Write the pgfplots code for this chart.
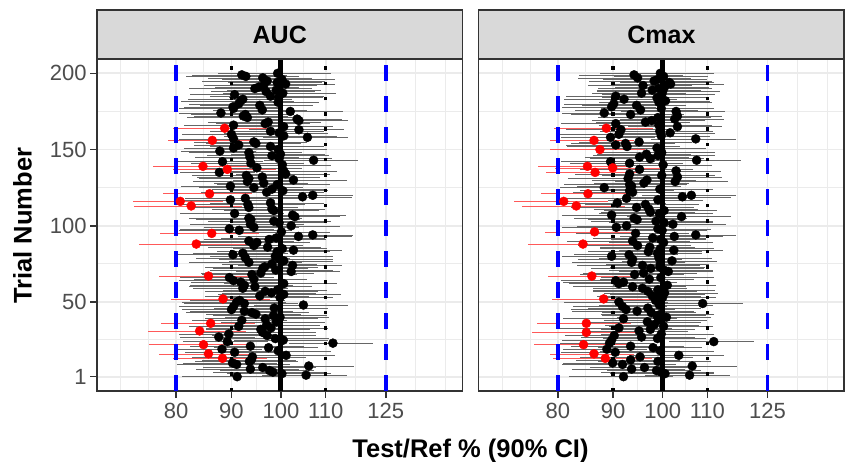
\documentclass[border=0pt]{standalone}
\usepackage{fontspec}
\setmainfont{Liberation Sans}
\usepackage{pgfplots}
\pgfplotsset{compat=1.18}
\usepackage{pgfplotstable}
\definecolor{grey20}{RGB}{51,51,51}
\definecolor{grey30}{RGB}{77,77,77}
\definecolor{grey85}{RGB}{217,217,217}
\definecolor{grey92}{RGB}{235,235,235}
\definecolor{failred}{RGB}{255,0,0}
\definecolor{limblue}{RGB}{0,0,255}

% t = trial, v = point estimate (%), r = relative half width of the 90% CI
\pgfplotstableread{
t v r
200 99.3 0.12
199 92.0 0.10
198 92.8 0.12
197 96.2 0.11
196 100.2 0.12
195 97.1 0.13
194 99.2 0.10
193 101.0 0.11
192 96.4 0.12
191 95.4 0.09
190 94.6 0.13
189 99.0 0.10
188 96.9 0.11
187 100.4 0.12
186 90.6 0.09
185 97.8 0.12
184 99.5 0.10
183 92.2 0.11
182 91.8 0.12
181 99.4 0.09
180 91.4 0.10
179 95.6 0.12
178 90.3 0.10
177 90.4 0.11
176 96.1 0.10
175 102.0 0.12
174 88.0 0.085
173 92.7 0.11
172 92.3 0.10
171 93.1 0.12
170 103.5 0.10
169 103.9 0.11
168 97.3 0.12
167 96.7 0.10
166 90.4 0.10
165 100.6 0.11
163 103.9 0.10
162 97.8 0.12
161 99.6 0.11
160 90.0 0.10
159 100.6 0.12
158 105.8 0.09
157 90.4 0.11
155 94.4 0.12
154 94.8 0.10
153 91.4 0.09
152 97.8 0.12
151 90.4 0.10
150 99.4 0.11
149 87.8 0.08
148 93.4 0.12
147 99.9 0.10
146 98.1 0.13
145 93.6 0.11
144 99.6 0.12
143 107.2 0.10
142 88.3 0.09
141 93.8 0.12
140 100.3 0.11
138 95.0 0.10
136 100.6 0.12
135 87.7 0.08
134 101.0 0.10
133 92.9 0.11
132 96.1 0.13
131 93.4 0.10
130 102.7 0.12
129 93.1 0.11
128 96.4 0.10
127 99.2 0.12
126 89.8 0.10
125 94.4 0.11
124 98.1 0.12
123 100.4 0.10
122 97.0 0.13
120 107.0 0.09
119 104.7 0.11
118 92.7 0.12
117 89.8 0.10
115 97.8 0.12
114 93.2 0.13
112 93.4 0.11
111 98.1 0.12
110 98.5 0.10
108 90.6 0.11
107 102.5 0.12
106 103.0 0.10
105 93.4 0.12
104 93.8 0.11
103 98.5 0.13
102 99.6 0.10
101 93.7 0.12
100 102.2 0.11
99 94.4 0.10
98 89.6 0.10
97 91.5 0.12
96 100.1 0.11
94 107.0 0.09
93 103.8 0.12
92 99.0 0.11
91 97.5 0.13
90 93.4 0.10
89 95.0 0.12
87 94.4 0.11
86 97.2 0.12
85 100.3 0.10
84 102.7 0.11
83 99.2 0.12
82 92.2 0.10
81 90.3 0.11
80 98.8 0.13
79 92.7 0.10
78 99.7 0.12
77 100.6 0.11
76 93.4 0.12
75 98.1 0.10
74 102.5 0.11
73 96.6 0.12
72 96.2 0.10
71 98.9 0.13
70 102.2 0.11
69 95.8 0.12
68 94.0 0.10
66 89.6 0.10
65 94.4 0.12
64 90.4 0.11
63 91.8 0.10
62 100.6 0.12
61 92.5 0.11
60 94.6 0.13
59 92.2 0.10
58 99.3 0.11
57 96.7 0.12
56 98.0 0.10
55 100.6 0.13
54 95.6 0.11
53 99.8 0.12
51 91.6 0.10
50 91.0 0.11
49 92.5 0.12
48 104.9 0.10
47 90.4 0.11
46 98.6 0.12
45 90.0 0.10
44 92.5 0.11
43 94.0 0.13
42 94.8 0.10
41 98.4 0.12
40 99.8 0.11
39 96.7 0.12
38 92.0 0.10
37 99.0 0.11
35 97.0 0.12
34 91.4 0.10
33 97.9 0.13
32 95.8 0.11
30 96.2 0.12
29 89.5 0.10
28 97.1 0.11
27 87.6 0.08
26 98.8 0.12
25 100.5 0.10
24 89.2 0.09
23 111.7 0.09
21 93.7 0.12
20 97.4 0.11
19 88.2 0.09
18 99.4 0.12
17 90.6 0.10
15 101.1 0.11
14 94.1 0.12
12 93.9 0.10
11 93.5 0.11
10 90.2 0.10
9 91.0 0.12
8 106.1 0.10
7 96.2 0.12
6 93.7 0.11
5 97.6 0.10
4 98.3 0.12
3 100.2 0.11
2 105.5 0.09
1 91.1 0.11
}\aucpass

\pgfplotstableread{
t v r
164 88.7 0.105
156 86.4 0.09
139 84.7 0.10
137 89.2 0.11
121 85.9 0.095
116 80.7 0.095
113 82.6 0.115
95 86.3 0.105
88 83.5 0.115
67 85.7 0.10
52 88.4 0.105
36 86.1 0.10
31 84.1 0.105
22 84.8 0.11
16 85.7 0.10
13 88.3 0.10
}\aucfail

\pgfplotstableread{
t v r
200 99.5 0.12
199 94.1 0.11
198 100.2 0.10
197 94.8 0.12
196 99.0 0.11
195 98.2 0.13
194 101.4 0.10
193 101.7 0.12
192 95.9 0.11
191 100.4 0.10
190 99.1 0.12
189 97.8 0.11
188 100.0 0.13
187 95.6 0.10
186 99.8 0.12
185 90.5 0.10
184 98.8 0.11
183 92.1 0.12
182 100.6 0.10
181 99.2 0.12
180 90.1 0.10
179 94.6 0.11
178 89.7 0.10
177 99.7 0.12
176 95.4 0.13
175 102.9 0.11
174 88.3 0.085
173 93.4 0.12
172 103.2 0.10
171 99.0 0.12
170 102.6 0.11
169 97.7 0.12
168 96.4 0.10
167 90.5 0.11
166 99.2 0.12
165 103.2 0.10
163 91.5 0.11
162 99.4 0.12
161 101.6 0.10
160 91.1 0.12
159 99.7 0.11
158 89.5 0.10
157 107.3 0.09
155 95.1 0.12
154 92.4 0.11
153 90.5 0.10
152 92.7 0.12
151 98.8 0.11
148 99.8 0.12
147 96.6 0.10
146 99.0 0.13
145 95.2 0.11
144 97.4 0.12
143 107.5 0.10
142 89.5 0.10
141 93.2 0.12
140 100.1 0.11
137 95.2 0.12
136 102.9 0.10
134 93.2 0.11
133 99.8 0.12
132 103.2 0.10
131 92.9 0.12
130 96.7 0.11
129 102.7 0.12
128 96.1 0.10
127 93.2 0.13
126 93.6 0.11
125 88.3 0.09
124 99.4 0.12
123 93.2 0.10
122 93.8 0.12
120 106.3 0.10
119 104.3 0.11
118 92.6 0.12
117 99.0 0.10
115 90.8 0.11
114 96.4 0.12
112 94.6 0.13
111 97.1 0.11
110 100.3 0.12
109 97.4 0.10
108 99.3 0.12
107 89.7 0.10
106 104.1 0.11
105 94.1 0.12
104 94.7 0.10
103 98.6 0.13
102 100.3 0.11
101 102.2 0.12
100 92.6 0.10
99 90.6 0.11
98 99.0 0.12
97 99.9 0.10
95 94.4 0.12
94 107.3 0.09
93 102.5 0.11
92 97.9 0.12
91 99.6 0.10
90 93.8 0.13
89 100.2 0.11
87 94.8 0.12
86 97.3 0.10
85 99.5 0.12
84 102.4 0.11
83 97.0 0.12
82 98.9 0.10
81 93.1 0.11
80 89.7 0.10
79 99.2 0.12
78 93.8 0.11
77 102.0 0.10
76 93.6 0.12
75 99.5 0.11
74 95.8 0.13
73 99.4 0.10
72 97.5 0.12
71 100.2 0.11
70 101.2 0.10
69 96.0 0.12
68 94.2 0.11
66 99.6 0.12
65 97.2 0.10
64 90.5 0.11
63 92.0 0.12
62 91.1 0.10
61 101.0 0.11
60 93.8 0.12
59 95.8 0.10
58 99.0 0.13
57 96.9 0.11
56 100.4 0.12
55 99.4 0.10
54 97.8 0.11
53 100.0 0.12
51 98.5 0.10
50 91.1 0.11
49 108.9 0.09
48 99.3 0.12
47 91.8 0.10
46 96.9 0.12
45 92.5 0.11
44 94.7 0.13
43 97.6 0.10
42 99.6 0.12
41 98.8 0.11
40 100.8 0.10
39 92.0 0.12
38 99.1 0.11
37 96.8 0.12
35 98.2 0.10
34 100.2 0.11
33 91.1 0.12
32 97.4 0.10
31 95.1 0.11
29 99.7 0.12
28 90.2 0.10
27 95.6 0.12
26 98.9 0.11
25 89.7 0.10
24 111.5 0.09
23 89.3 0.10
21 93.4 0.12
20 98.0 0.11
19 88.8 0.09
18 99.5 0.12
17 90.4 0.11
15 103.5 0.10
14 95.3 0.12
12 93.4 0.11
11 99.0 0.12
10 89.9 0.10
9 91.8 0.12
8 106.5 0.10
7 96.2 0.11
6 93.6 0.12
5 98.7 0.10
4 99.7 0.12
3 100.5 0.11
2 105.9 0.09
1 92.0 0.11
}\cmaxpass

\pgfplotstableread{
t v r
164 88.7 0.105
156 86.4 0.09
150 87.5 0.10
139 85.2 0.10
138 89.9 0.115
135 86.6 0.10
121 85.3 0.095
116 81.0 0.10
113 83.2 0.11
96 86.5 0.10
88 84.4 0.11
67 86.0 0.09
52 88.2 0.105
36 85.0 0.10
30 85.0 0.11
22 84.5 0.10
16 86.4 0.09
13 88.5 0.105
}\cmaxfail

\begin{document}
\begin{tikzpicture}
\path[use as bounding box] (0,0) rectangle (846bp,462bp);

% ---------- AUC ----------
\begin{axis}[
  at={(97bp,71bp)}, anchor=south west,
  scale only axis, width=365.5bp, height=332bp,
  xmode=log, xmin=67.6, xmax=147.2, ymin=-8.4, ymax=209.4,
  xtick={80,90,100,110,125},
  xticklabels={\mbox{80},\mbox{90},\mbox{100},\mbox{110},\mbox{125}},
  minor xtick={71.11,75.42,84.85,94.87,104.88,117.26,133.25,142.05},
  ytick={1,50,100,150,200},
  yticklabels={\mbox{1},\mbox{50},\mbox{100},\mbox{150},\mbox{200}},
  minor ytick={25.5,75,125,175},
  grid=both,
  major grid style={grey92, line width=1.8bp},
  minor grid style={grey92, line width=0.9bp},
  axis line style={grey20, line width=1.5bp},
  tick align=outside, major tick length=7bp, minor tick length=0pt,
  xtick pos=left, ytick pos=left,
  tick style={grey20, line width=1.5bp},
  tick label style={font=\fontsize{22bp}{24bp}\selectfont, text=grey30},
  xticklabel style={yshift=-1.5bp},
]
  \addplot[only marks, mark=none, error bars/.cd, x dir=both, x explicit relative,
    error mark=none, error bar style={line width=0.5bp, black!60}]
    table[x=v, y=t, x error=r] {\aucpass};
  \addplot[only marks, mark=none, error bars/.cd, x dir=both, x explicit relative,
    error mark=none, error bar style={line width=0.5bp, failred!65}]
    table[x=v, y=t, x error=r] {\aucfail};
  \addplot[limblue, line width=3.9bp, dash pattern=on 15.5bp off 15.5bp] coordinates {(80,-8.4) (80,209.4)};
  \addplot[limblue, line width=3.9bp, dash pattern=on 15.5bp off 15.5bp] coordinates {(125,-8.4) (125,209.4)};
  \addplot[black, line width=3.4bp, dash pattern=on 3.4bp off 11.9bp] coordinates {(90,-8.4) (90,209.4)};
  \addplot[black, line width=3.4bp, dash pattern=on 3.4bp off 11.9bp] coordinates {(110,-8.4) (110,209.4)};
  \addplot[black, line width=5bp] coordinates {(100,-8.4) (100,209.4)};
  \addplot[only marks, mark=*, mark size=4.5bp, draw=black, fill=black] table[x=v, y=t] {\aucpass};
  \addplot[only marks, mark=*, mark size=4.5bp, draw=failred, fill=failred] table[x=v, y=t] {\aucfail};
\end{axis}

% ---------- Cmax ----------
\begin{axis}[
  at={(478.7bp,71bp)}, anchor=south west,
  scale only axis, width=365.5bp, height=332bp,
  xmode=log, xmin=67.6, xmax=147.2, ymin=-8.4, ymax=209.4,
  xtick={80,90,100,110,125},
  xticklabels={\mbox{80},\mbox{90},\mbox{100},\mbox{110},\mbox{125}},
  minor xtick={71.11,75.42,84.85,94.87,104.88,117.26,133.25,142.05},
  ytick={1,50,100,150,200},
  yticklabels={},
  minor ytick={25.5,75,125,175},
  grid=both,
  major grid style={grey92, line width=1.8bp},
  minor grid style={grey92, line width=0.9bp},
  axis line style={grey20, line width=1.5bp},
  tick align=outside, major tick length=7bp, minor tick length=0pt,
  xtick pos=left, ytick pos=left,
  tick style={grey20, line width=1.5bp},
  major y tick style={draw=none},
  tick label style={font=\fontsize{22bp}{24bp}\selectfont, text=grey30},
  xticklabel style={yshift=-1.5bp},
]
  \addplot[only marks, mark=none, error bars/.cd, x dir=both, x explicit relative,
    error mark=none, error bar style={line width=0.5bp, black!60}]
    table[x=v, y=t, x error=r] {\cmaxpass};
  \addplot[only marks, mark=none, error bars/.cd, x dir=both, x explicit relative,
    error mark=none, error bar style={line width=0.5bp, failred!65}]
    table[x=v, y=t, x error=r] {\cmaxfail};
  \addplot[limblue, line width=3.9bp, dash pattern=on 15.5bp off 15.5bp] coordinates {(80,-8.4) (80,209.4)};
  \addplot[limblue, line width=3.9bp, dash pattern=on 15.5bp off 15.5bp] coordinates {(125,-8.4) (125,209.4)};
  \addplot[black, line width=3.4bp, dash pattern=on 3.4bp off 11.9bp] coordinates {(90,-8.4) (90,209.4)};
  \addplot[black, line width=3.4bp, dash pattern=on 3.4bp off 11.9bp] coordinates {(110,-8.4) (110,209.4)};
  \addplot[black, line width=5bp] coordinates {(100,-8.4) (100,209.4)};
  \addplot[only marks, mark=*, mark size=4.5bp, draw=black, fill=black] table[x=v, y=t] {\cmaxpass};
  \addplot[only marks, mark=*, mark size=4.5bp, draw=failred, fill=failred] table[x=v, y=t] {\cmaxfail};
\end{axis}

% facet strips
\draw[fill=grey85, draw=grey20, line width=1.5bp] (97bp,403bp) rectangle (462.5bp,452bp);
\draw[fill=grey85, draw=grey20, line width=1.5bp] (478.7bp,403bp) rectangle (844.2bp,452bp);
\node[anchor=base, font=\bfseries\fontsize{25bp}{28bp}\selectfont] at (279.75bp,418bp) {AUC};
\node[anchor=base, font=\bfseries\fontsize{25bp}{28bp}\selectfont] at (661.45bp,418bp) {Cmax};

% axis titles
\node[anchor=base, font=\bfseries\fontsize{25.5bp}{28bp}\selectfont] at (470.5bp,5bp) {Test/Ref \% (90\% CI)};
\node[rotate=90, anchor=base, font=\bfseries\fontsize{25.5bp}{28bp}\selectfont] at (31.5bp,236.2bp) {Trial Number};
\end{tikzpicture}
\end{document}
